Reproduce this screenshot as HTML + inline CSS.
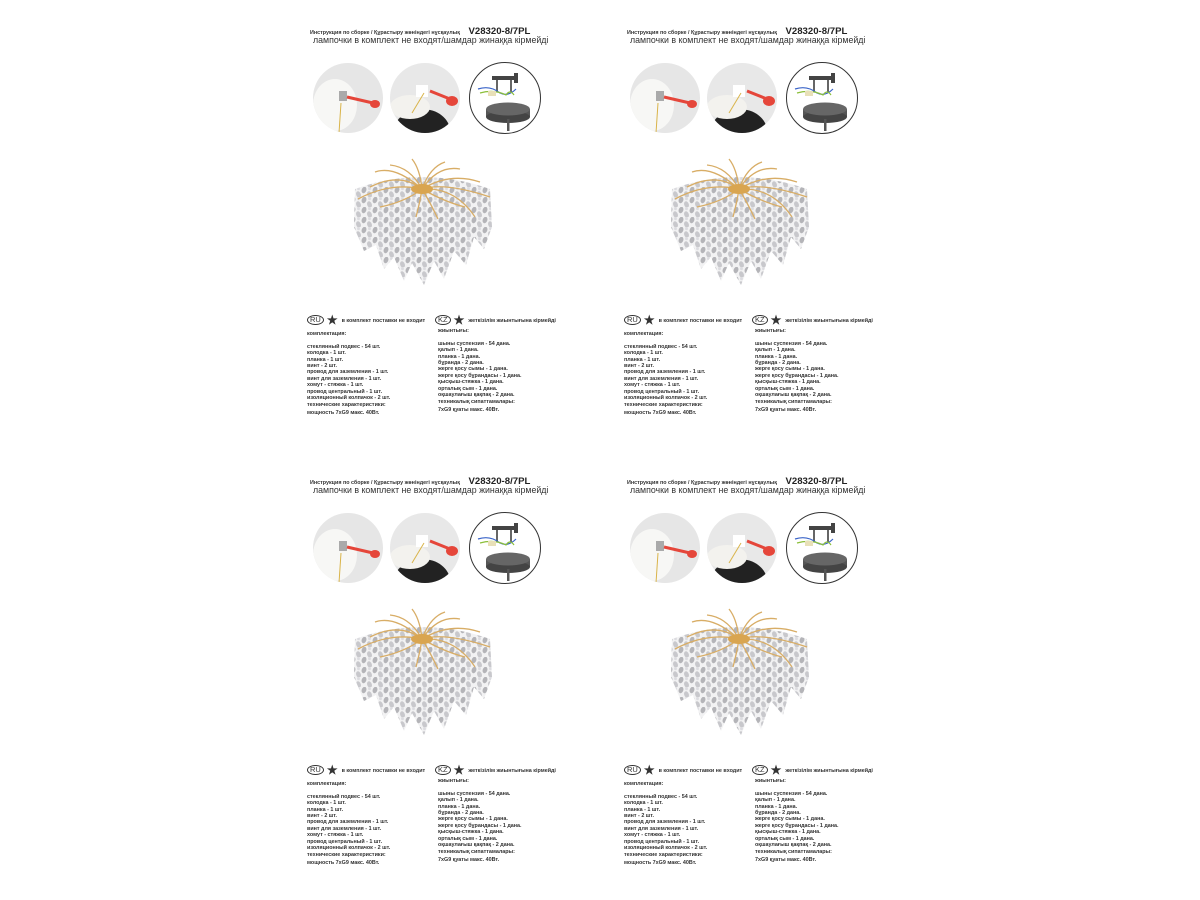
<!DOCTYPE html>
<html><head><meta charset="utf-8">
<style>
html,body{margin:0;padding:0;background:#fff;}
body{width:1200px;height:900px;position:relative;overflow:hidden;font-family:"Liberation Sans",sans-serif;color:#222;}
.p{position:absolute;width:320px;height:420px;}
.t1{position:absolute;left:0;top:1px;font-size:5.4px;font-weight:bold;white-space:nowrap;color:#333;}
.t1 b{font-size:9.6px;margin-left:7px;color:#222;}
.t2{position:absolute;left:3px;top:10px;font-size:8.8px;white-space:nowrap;color:#333;}
.c{position:absolute;border-radius:50%;overflow:hidden;}
.tx{position:absolute;font-size:5.4px;font-weight:bold;line-height:6.4px;white-space:nowrap;color:#333;}
.hd{position:absolute;font-size:5.4px;font-weight:bold;white-space:nowrap;color:#333;}
.ov{display:inline-block;border:1px solid #333;border-radius:50%;font-size:7.5px;padding:0 2px;line-height:8px;font-weight:normal;margin-right:3px;}
.st{font-size:12px;vertical-align:-2px;margin-right:4px;}
.ch{position:absolute;left:40px;top:132px;}
</style></head><body>
<svg width="0" height="0" style="position:absolute">
<defs>
<pattern id="lf" width="11" height="10" patternUnits="userSpaceOnUse">
<rect width="11" height="10" fill="#f2f2f3"/>
<ellipse cx="3" cy="3" rx="2.3" ry="3.3" fill="#b4b4b8" transform="rotate(20 3 3)"/>
<ellipse cx="8.5" cy="7.5" rx="2.3" ry="3.3" fill="#c8c8cc" transform="rotate(-20 8.5 7.5)"/>
<ellipse cx="8.5" cy="1.5" rx="1.4" ry="1.8" fill="#dcdce0"/>
</pattern>
<symbol id="chand" viewBox="0 0 145 130">
<path d="M5 32 Q72 8 140 32 L142 70 L134 92 L124 80 L116 108 L104 94 L94 122 L84 104 L74 128 L62 106 L54 124 L44 100 L34 112 L26 88 L14 94 L4 70 Z" fill="url(#lf)"/>
<g stroke="#d8ad66" fill="none" stroke-width="1.3">
<path d="M72 32 Q50 15 20 30"/><path d="M72 32 Q60 10 40 8"/><path d="M72 32 Q70 12 62 2"/><path d="M72 32 Q80 10 95 5"/><path d="M72 32 Q100 15 130 25"/><path d="M72 32 Q95 25 140 40"/><path d="M72 32 Q40 25 8 42"/><path d="M72 32 Q88 8 110 12"/><path d="M72 32 Q55 45 30 50"/><path d="M72 32 Q95 45 115 50"/><path d="M72 32 Q70 45 66 60"/><path d="M72 32 Q80 45 88 62"/><path d="M72 32 Q45 8 25 15"/><path d="M72 32 Q105 30 125 60"/>
</g>
<ellipse cx="72" cy="32" rx="11" ry="5" fill="#d9a550"/>
</symbol>
</defs></svg>

<div class="p" style="left:310px;top:25px">
<div class="t1">Инструкция по сборке / Құрастыру жөніндегі нұсқаулық <b>V28320-8/7PL</b></div>
<div class="t2">лампочки в комплект не входят/шамдар жинаққа кірмейді</div>
<div class="c" style="left:3px;top:38px;width:70px;height:70px;background:#e6e6e6"><svg width="70" height="70"><ellipse cx="22" cy="42" rx="22" ry="26" fill="#f7f7f5"/><rect x="26" y="28" width="8" height="10" fill="#aaa"/><line x1="34" y1="34" x2="60" y2="40" stroke="#e5463a" stroke-width="3"/><ellipse cx="62" cy="41" rx="5" ry="4" fill="#e5463a"/><path d="M28 40 L26 70" stroke="#d9b44a" stroke-width="1"/></svg></div>
<div class="c" style="left:80px;top:38px;width:70px;height:70px;background:#e8e8e8"><svg width="70" height="70"><ellipse cx="32" cy="68" rx="28" ry="22" fill="#222"/><ellipse cx="20" cy="44" rx="20" ry="12" fill="#f3f2ee"/><rect x="26" y="22" width="12" height="12" fill="#fff"/><line x1="40" y1="28" x2="60" y2="36" stroke="#e5463a" stroke-width="3"/><ellipse cx="62" cy="38" rx="6" ry="5" fill="#e5463a"/><path d="M34 30 Q28 40 22 50" stroke="#d9b44a" stroke-width="1" fill="none"/></svg></div>
<div class="c" style="left:159px;top:37px;width:70px;height:70px;border:1px solid #333;background:#fff"><svg width="70" height="70"><rect x="22" y="13" width="26" height="4" fill="#444"/><rect x="44" y="10" width="4" height="10" fill="#444"/><rect x="26" y="17" width="2" height="12" fill="#666"/><rect x="40" y="17" width="2" height="12" fill="#666"/><path d="M8 26 Q20 22 30 30 Q38 34 46 26" stroke="#3a64c8" stroke-width="1.2" fill="none"/><path d="M10 30 Q24 26 36 32 Q40 26 44 32" stroke="#8bbf3a" stroke-width="1.2" fill="none"/><rect x="18" y="28" width="8" height="5" fill="#e8e0b8"/><rect x="16" y="46" width="44" height="8" fill="#555"/><ellipse cx="38" cy="54" rx="22" ry="6" fill="#444"/><ellipse cx="38" cy="46" rx="22" ry="6.5" fill="#666"/><rect x="37" y="56" width="2.5" height="12" fill="#555"/></svg></div>
<svg class="ch" width="145" height="130"><use href="#chand" width="145" height="130"/></svg>
<div class="hd" style="left:-3px;top:288px"><span class="ov">RU</span><span class="st">★</span>в комплект поставки не входит</div>
<div class="hd" style="left:125px;top:288px"><span class="ov">KZ</span><span class="st">★</span>жеткізілім жиынтығына кірмейді</div>
<div class="tx" style="left:-3px;top:306px">комплектация:<br><br>стеклянный подвес - 54 шт.<br>колодка - 1 шт.<br>планка - 1 шт.<br>винт - 2 шт.<br>провод для заземления - 1 шт.<br>винт для заземления - 1 шт.<br>хомут - стяжка - 1 шт.<br>провод центральный - 1 шт.<br>изоляционный колпачок - 2 шт.<br><span style="line-height:9px">технические характеристики:</span><br>мощность 7xG9 макс. 40Вт.</div>
<div class="tx" style="left:128px;top:303px">жиынтығы:<br><br>шыны суспензия - 54 дана.<br>қалып - 1 дана.<br>планка - 1 дана.<br>бұранда - 2 дана.<br>жерге қосу сымы - 1 дана.<br>жерге қосу бұрандасы - 1 дана.<br>қысқыш-стяжка - 1 дана.<br>орталық сым - 1 дана.<br>оқшаулағыш қақпақ - 2 дана.<br><span style="line-height:9px">техникалық сипаттамалары:</span><br>7xG9 қуаты макс. 40Вт.</div>
</div>

<div class="p" style="left:627px;top:25px">
<div class="t1">Инструкция по сборке / Құрастыру жөніндегі нұсқаулық <b>V28320-8/7PL</b></div>
<div class="t2">лампочки в комплект не входят/шамдар жинаққа кірмейді</div>
<div class="c" style="left:3px;top:38px;width:70px;height:70px;background:#e6e6e6"><svg width="70" height="70"><ellipse cx="22" cy="42" rx="22" ry="26" fill="#f7f7f5"/><rect x="26" y="28" width="8" height="10" fill="#aaa"/><line x1="34" y1="34" x2="60" y2="40" stroke="#e5463a" stroke-width="3"/><ellipse cx="62" cy="41" rx="5" ry="4" fill="#e5463a"/><path d="M28 40 L26 70" stroke="#d9b44a" stroke-width="1"/></svg></div>
<div class="c" style="left:80px;top:38px;width:70px;height:70px;background:#e8e8e8"><svg width="70" height="70"><ellipse cx="32" cy="68" rx="28" ry="22" fill="#222"/><ellipse cx="20" cy="44" rx="20" ry="12" fill="#f3f2ee"/><rect x="26" y="22" width="12" height="12" fill="#fff"/><line x1="40" y1="28" x2="60" y2="36" stroke="#e5463a" stroke-width="3"/><ellipse cx="62" cy="38" rx="6" ry="5" fill="#e5463a"/><path d="M34 30 Q28 40 22 50" stroke="#d9b44a" stroke-width="1" fill="none"/></svg></div>
<div class="c" style="left:159px;top:37px;width:70px;height:70px;border:1px solid #333;background:#fff"><svg width="70" height="70"><rect x="22" y="13" width="26" height="4" fill="#444"/><rect x="44" y="10" width="4" height="10" fill="#444"/><rect x="26" y="17" width="2" height="12" fill="#666"/><rect x="40" y="17" width="2" height="12" fill="#666"/><path d="M8 26 Q20 22 30 30 Q38 34 46 26" stroke="#3a64c8" stroke-width="1.2" fill="none"/><path d="M10 30 Q24 26 36 32 Q40 26 44 32" stroke="#8bbf3a" stroke-width="1.2" fill="none"/><rect x="18" y="28" width="8" height="5" fill="#e8e0b8"/><rect x="16" y="46" width="44" height="8" fill="#555"/><ellipse cx="38" cy="54" rx="22" ry="6" fill="#444"/><ellipse cx="38" cy="46" rx="22" ry="6.5" fill="#666"/><rect x="37" y="56" width="2.5" height="12" fill="#555"/></svg></div>
<svg class="ch" width="145" height="130"><use href="#chand" width="145" height="130"/></svg>
<div class="hd" style="left:-3px;top:288px"><span class="ov">RU</span><span class="st">★</span>в комплект поставки не входит</div>
<div class="hd" style="left:125px;top:288px"><span class="ov">KZ</span><span class="st">★</span>жеткізілім жиынтығына кірмейді</div>
<div class="tx" style="left:-3px;top:306px">комплектация:<br><br>стеклянный подвес - 54 шт.<br>колодка - 1 шт.<br>планка - 1 шт.<br>винт - 2 шт.<br>провод для заземления - 1 шт.<br>винт для заземления - 1 шт.<br>хомут - стяжка - 1 шт.<br>провод центральный - 1 шт.<br>изоляционный колпачок - 2 шт.<br><span style="line-height:9px">технические характеристики:</span><br>мощность 7xG9 макс. 40Вт.</div>
<div class="tx" style="left:128px;top:303px">жиынтығы:<br><br>шыны суспензия - 54 дана.<br>қалып - 1 дана.<br>планка - 1 дана.<br>бұранда - 2 дана.<br>жерге қосу сымы - 1 дана.<br>жерге қосу бұрандасы - 1 дана.<br>қысқыш-стяжка - 1 дана.<br>орталық сым - 1 дана.<br>оқшаулағыш қақпақ - 2 дана.<br><span style="line-height:9px">техникалық сипаттамалары:</span><br>7xG9 қуаты макс. 40Вт.</div>
</div>

<div class="p" style="left:310px;top:475px">
<div class="t1">Инструкция по сборке / Құрастыру жөніндегі нұсқаулық <b>V28320-8/7PL</b></div>
<div class="t2">лампочки в комплект не входят/шамдар жинаққа кірмейді</div>
<div class="c" style="left:3px;top:38px;width:70px;height:70px;background:#e6e6e6"><svg width="70" height="70"><ellipse cx="22" cy="42" rx="22" ry="26" fill="#f7f7f5"/><rect x="26" y="28" width="8" height="10" fill="#aaa"/><line x1="34" y1="34" x2="60" y2="40" stroke="#e5463a" stroke-width="3"/><ellipse cx="62" cy="41" rx="5" ry="4" fill="#e5463a"/><path d="M28 40 L26 70" stroke="#d9b44a" stroke-width="1"/></svg></div>
<div class="c" style="left:80px;top:38px;width:70px;height:70px;background:#e8e8e8"><svg width="70" height="70"><ellipse cx="32" cy="68" rx="28" ry="22" fill="#222"/><ellipse cx="20" cy="44" rx="20" ry="12" fill="#f3f2ee"/><rect x="26" y="22" width="12" height="12" fill="#fff"/><line x1="40" y1="28" x2="60" y2="36" stroke="#e5463a" stroke-width="3"/><ellipse cx="62" cy="38" rx="6" ry="5" fill="#e5463a"/><path d="M34 30 Q28 40 22 50" stroke="#d9b44a" stroke-width="1" fill="none"/></svg></div>
<div class="c" style="left:159px;top:37px;width:70px;height:70px;border:1px solid #333;background:#fff"><svg width="70" height="70"><rect x="22" y="13" width="26" height="4" fill="#444"/><rect x="44" y="10" width="4" height="10" fill="#444"/><rect x="26" y="17" width="2" height="12" fill="#666"/><rect x="40" y="17" width="2" height="12" fill="#666"/><path d="M8 26 Q20 22 30 30 Q38 34 46 26" stroke="#3a64c8" stroke-width="1.2" fill="none"/><path d="M10 30 Q24 26 36 32 Q40 26 44 32" stroke="#8bbf3a" stroke-width="1.2" fill="none"/><rect x="18" y="28" width="8" height="5" fill="#e8e0b8"/><rect x="16" y="46" width="44" height="8" fill="#555"/><ellipse cx="38" cy="54" rx="22" ry="6" fill="#444"/><ellipse cx="38" cy="46" rx="22" ry="6.5" fill="#666"/><rect x="37" y="56" width="2.5" height="12" fill="#555"/></svg></div>
<svg class="ch" width="145" height="130"><use href="#chand" width="145" height="130"/></svg>
<div class="hd" style="left:-3px;top:288px"><span class="ov">RU</span><span class="st">★</span>в комплект поставки не входит</div>
<div class="hd" style="left:125px;top:288px"><span class="ov">KZ</span><span class="st">★</span>жеткізілім жиынтығына кірмейді</div>
<div class="tx" style="left:-3px;top:306px">комплектация:<br><br>стеклянный подвес - 54 шт.<br>колодка - 1 шт.<br>планка - 1 шт.<br>винт - 2 шт.<br>провод для заземления - 1 шт.<br>винт для заземления - 1 шт.<br>хомут - стяжка - 1 шт.<br>провод центральный - 1 шт.<br>изоляционный колпачок - 2 шт.<br><span style="line-height:9px">технические характеристики:</span><br>мощность 7xG9 макс. 40Вт.</div>
<div class="tx" style="left:128px;top:303px">жиынтығы:<br><br>шыны суспензия - 54 дана.<br>қалып - 1 дана.<br>планка - 1 дана.<br>бұранда - 2 дана.<br>жерге қосу сымы - 1 дана.<br>жерге қосу бұрандасы - 1 дана.<br>қысқыш-стяжка - 1 дана.<br>орталық сым - 1 дана.<br>оқшаулағыш қақпақ - 2 дана.<br><span style="line-height:9px">техникалық сипаттамалары:</span><br>7xG9 қуаты макс. 40Вт.</div>
</div>

<div class="p" style="left:627px;top:475px">
<div class="t1">Инструкция по сборке / Құрастыру жөніндегі нұсқаулық <b>V28320-8/7PL</b></div>
<div class="t2">лампочки в комплект не входят/шамдар жинаққа кірмейді</div>
<div class="c" style="left:3px;top:38px;width:70px;height:70px;background:#e6e6e6"><svg width="70" height="70"><ellipse cx="22" cy="42" rx="22" ry="26" fill="#f7f7f5"/><rect x="26" y="28" width="8" height="10" fill="#aaa"/><line x1="34" y1="34" x2="60" y2="40" stroke="#e5463a" stroke-width="3"/><ellipse cx="62" cy="41" rx="5" ry="4" fill="#e5463a"/><path d="M28 40 L26 70" stroke="#d9b44a" stroke-width="1"/></svg></div>
<div class="c" style="left:80px;top:38px;width:70px;height:70px;background:#e8e8e8"><svg width="70" height="70"><ellipse cx="32" cy="68" rx="28" ry="22" fill="#222"/><ellipse cx="20" cy="44" rx="20" ry="12" fill="#f3f2ee"/><rect x="26" y="22" width="12" height="12" fill="#fff"/><line x1="40" y1="28" x2="60" y2="36" stroke="#e5463a" stroke-width="3"/><ellipse cx="62" cy="38" rx="6" ry="5" fill="#e5463a"/><path d="M34 30 Q28 40 22 50" stroke="#d9b44a" stroke-width="1" fill="none"/></svg></div>
<div class="c" style="left:159px;top:37px;width:70px;height:70px;border:1px solid #333;background:#fff"><svg width="70" height="70"><rect x="22" y="13" width="26" height="4" fill="#444"/><rect x="44" y="10" width="4" height="10" fill="#444"/><rect x="26" y="17" width="2" height="12" fill="#666"/><rect x="40" y="17" width="2" height="12" fill="#666"/><path d="M8 26 Q20 22 30 30 Q38 34 46 26" stroke="#3a64c8" stroke-width="1.2" fill="none"/><path d="M10 30 Q24 26 36 32 Q40 26 44 32" stroke="#8bbf3a" stroke-width="1.2" fill="none"/><rect x="18" y="28" width="8" height="5" fill="#e8e0b8"/><rect x="16" y="46" width="44" height="8" fill="#555"/><ellipse cx="38" cy="54" rx="22" ry="6" fill="#444"/><ellipse cx="38" cy="46" rx="22" ry="6.5" fill="#666"/><rect x="37" y="56" width="2.5" height="12" fill="#555"/></svg></div>
<svg class="ch" width="145" height="130"><use href="#chand" width="145" height="130"/></svg>
<div class="hd" style="left:-3px;top:288px"><span class="ov">RU</span><span class="st">★</span>в комплект поставки не входит</div>
<div class="hd" style="left:125px;top:288px"><span class="ov">KZ</span><span class="st">★</span>жеткізілім жиынтығына кірмейді</div>
<div class="tx" style="left:-3px;top:306px">комплектация:<br><br>стеклянный подвес - 54 шт.<br>колодка - 1 шт.<br>планка - 1 шт.<br>винт - 2 шт.<br>провод для заземления - 1 шт.<br>винт для заземления - 1 шт.<br>хомут - стяжка - 1 шт.<br>провод центральный - 1 шт.<br>изоляционный колпачок - 2 шт.<br><span style="line-height:9px">технические характеристики:</span><br>мощность 7xG9 макс. 40Вт.</div>
<div class="tx" style="left:128px;top:303px">жиынтығы:<br><br>шыны суспензия - 54 дана.<br>қалып - 1 дана.<br>планка - 1 дана.<br>бұранда - 2 дана.<br>жерге қосу сымы - 1 дана.<br>жерге қосу бұрандасы - 1 дана.<br>қысқыш-стяжка - 1 дана.<br>орталық сым - 1 дана.<br>оқшаулағыш қақпақ - 2 дана.<br><span style="line-height:9px">техникалық сипаттамалары:</span><br>7xG9 қуаты макс. 40Вт.</div>
</div>
</body></html>
